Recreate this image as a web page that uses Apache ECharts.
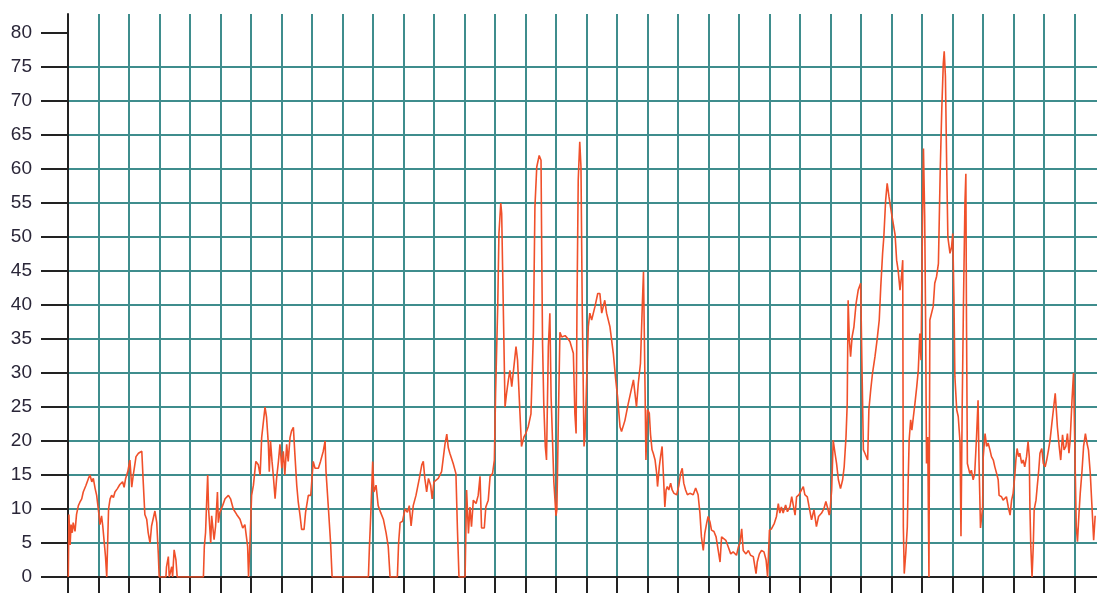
<!DOCTYPE html>
<html>
<head>
<meta charset="utf-8">
<title>Line chart</title>
<script src="https://cdn.jsdelivr.net/npm/echarts@6/dist/echarts.min.js"></script>
<style>
  html, body { margin: 0; padding: 0; background: #fff; }
  #chart { width: 1097px; height: 593px; }
</style>
</head>
<body>
<div id="chart"></div>
<script>
// x is measured in tenths of one grid column, y is the plotted value
const yTicks = [0, 5, 10, 15, 20, 25, 30, 35, 40, 45, 50, 55, 60, 65, 70, 75, 80];
const xTicks = [0, 10, 20, 30, 40, 50, 60, 70, 80, 90, 100, 110, 120, 130, 140, 150, 160,
  170, 180, 190, 200, 210, 220, 230, 240, 250, 260, 270, 280, 290, 300, 310, 320, 330];

const startLow = [
  [0.1,0],[0.3,9.2],[0.7,4.7],[1.0,7.7],[1.4,6.5],[1.7,8],[2.3,6.7],[2.8,9.2],[3.4,10.5],[3.9,11],
  [4.5,11.5],[5.0,12.5],[5.9,13.5],[6.7,14.5],[7.2,15],[7.8,14],[8.3,14.5],[8.9,13],[9.4,12],[10.2,9],
  [10.5,7.7],[11.0,9],[11.4,7.5],[11.8,5.5],[12.3,3],[12.7,0],[12.9,0],[13.3,10],[13.8,11.5],[14.3,12],
  [14.9,11.7],[15.4,12.5],[16.2,13],[17.0,13.6],[17.9,14],[18.4,13.2],[18.9,14.5],[19.6,15.5],[20.3,17.2],[20.9,13.2],
  [21.4,15],[22.3,17.7],[23.1,18.2],[24.2,18.5],[24.7,13.7],[25.2,9.2],[25.8,8.5],[26.3,6.5],[26.9,5],[27.4,7.5],
  [28.5,9.7],[29.1,8],[29.6,3.5],[29.9,0],[32.1,0],[32.3,1.5],[32.9,3],[33.2,0],[34.0,1.5],[34.3,0],
  [34.8,4],[35.4,2.5],[35.8,0],[44.4,0],[44.7,4.5],[45.1,6.5],[45.5,11.5],[45.8,15],[46.1,10],[46.8,5],
  [47.1,9],[47.9,5.5],[48.4,7.5],[49.0,12.5],[49.3,8],[49.8,9.5],[50.7,10.5],[51.5,11.5],[52.6,12],[53.3,11.5],
  [54.2,10],[55.3,9.2],[56.4,8.5],[57.3,7.2],[58.0,7.7],[58.6,7.5],[58.9,4.5],[59.2,0],[59.7,5.5],[60.2,12],
  [60.8,13.5],[61.6,17],[62.4,16.5]
];

const middleLow = [
  [63.0,15],[63.5,20.5],[64.6,25],[65.1,23.5],[65.7,19.5],[66.0,15.5],[66.4,20],[66.9,17],[67.3,15],[67.9,11.5],
  [68.4,14.5],[69.0,17],[69.5,19.5],[70.1,16],[70.6,18.5],[71.1,15],[71.7,19.5],[72.2,17],[72.8,20.5],[73.3,21.5],
  [73.9,22],[74.4,18],[75.0,13.5],[75.5,11],[76.1,9],[76.6,7],[77.4,7],[77.9,9.5],[78.8,12],[79.6,12],
  [80.4,17],[81.0,16],[82.1,16],[82.8,17],[83.7,18.5],[84.3,20],[84.6,15.5],[85.4,10],[86.1,5],[86.6,0],
  [98.5,0],[98.8,4],[99.3,9.5],[99.9,17],[100.3,12.5],[101.0,13.5],[101.7,10.5],[102.5,9.5],[103.4,8.5],[104.3,6.5],
  [105.0,4.5],[105.6,0],[108.0,0],[108.4,5],[108.9,8],[109.7,8.2],[110.5,10],[111.3,9.5],[111.9,10.5],[112.5,7.5],
  [113.2,10.5],[114.1,12],[115.2,14.5],[116.0,16.5],[116.5,17],[117.0,14.5],[117.6,12.5],[118.2,14.5],[118.9,13.5],[119.4,11.5],
  [120.0,14],[121.4,14.5],[122.5,15.5],[123.6,19.5],[124.2,21],[124.7,19]
];

const firstBurst = [
  [125.2,18.2],[126.3,16.7],[127.2,15.2],[127.7,6.9],[128.2,0],[130.2,0],[130.7,12.8],[131.3,6.4],[131.8,10.3],[132.3,7.4],
  [132.9,11.3],[133.8,10.8],[134.5,12],[135.1,14.8],[135.6,7.2],[136.5,7.2],[137.0,10.3],[137.8,11.3],[138.4,14.8],[139.2,15.2],
  [139.8,17.2],[140.2,27],[140.9,39.8],[141.3,50.5],[141.9,55],[142.2,53.5],[142.5,45.6],[143.3,25],[143.8,27],[144.4,29],
  [144.9,30.4],[145.5,28],[146.2,30.9],[146.9,33.9],[147.4,31.9],[148.2,24],[148.7,19.2],[149.5,20.6],[150.1,21.1],[150.9,22.1],
  [151.8,24],[152.6,36],[153.1,54.4],[153.7,60.3],[154.5,62],[155.1,61.3],[155.3,49.6],[155.6,34.4],[156.0,25.5],[156.5,19.2],
  [156.9,17.2],[157.5,33.9],[158.0,38.8],[158.4,26.5],[158.9,19.7],[159.3,14],[160.0,9],[160.3,9.9],[160.8,23.6],[161.3,36],
  [161.9,35.3],[163.0,35.5],[164.0,35],[164.6,34.6],[165.7,32.9],[166.2,24],[166.6,21.1],[166.9,40.2],[167.3,58.4],[167.8,64],
  [168.2,60.3],[168.6,40.2],[169.2,19.2],[169.5,20.6],[170.0,28],[170.6,36.8],[171.1,38.8],[171.7,37.8],[172.8,39.8],[173.7,41.7],
  [174.4,41.7],[175.0,38.8],[176.0,40.7],[176.6,38.8],[177.7,36.8],[178.8,32.9],[179.6,29],[180.2,26.5],[181.0,22.1],[181.5,21.4],
  [182.6,23],[183.7,25.5],[185.4,29],[185.9,27],[186.4,25],[187.0,28.5],[187.7,31.4],[188.3,39.8],[188.7,44.9],[189.2,28],
  [189.5,17.2],[190.0,24.6],[190.6,24.1]
];

const slowDecline = [
  [191.0,21],[191.5,18.7],[191.9,18.2],[192.5,17.2],[193.0,15.3],[193.3,13.3],[193.9,16.3],[194.3,17.7],[194.8,19.2],[195.2,15.3],
  [195.7,10.3],[196.1,12.8],[196.5,13.3],[197.0,12.8],[197.6,13.8],[198.1,12.8],[198.7,12.3],[199.6,12.1],[200.3,13.5],[200.9,15.3],
  [201.4,16],[201.9,13.8],[202.5,12.8],[203.1,12.1],[203.9,12.3],[205.0,12.1],[205.8,13.1],[206.6,12.1],[207.2,9.4],[207.7,5.9],
  [208.3,3.9],[208.8,6.4],[209.4,7.9],[209.9,8.9],[210.5,8.1],[211.0,6.9],[211.8,6.7],[212.5,5.9],[213.2,3.9],[213.8,2.2],
  [214.3,5.9],[214.9,5.7],[215.7,5.4],[216.5,4.4],[217.3,3.4],[218.1,3.7],[219.2,3.2],[219.8,4.4],[220.3,4.9],[220.9,7.1],
  [221.4,3.9],[222.3,3.4],[223.1,3.9],[223.8,3.2],[224.7,3.0],[225.6,0.5],[226.0,2.2],[226.7,3.4],[227.4,3.9],[228.2,3.7],
  [228.9,2.5],[229.4,0],[230.0,6.9],[230.7,7.1],[231.6,7.9],[232.3,8.9],[232.9,10.8],[233.4,9.4],[233.9,10.3],[234.5,9.4],
  [235.3,10.6],[235.9,9.6],[236.7,10.3],[237.3,11.8],[237.8,10.6],[238.4,9.1],[238.9,11.8],[239.7,12.1],[240.5,12.8],[241.1,13.3],
  [241.6,12.1],[242.4,11.8],[243.0,10.3],[243.8,8.4],[244.6,9.9],[245.4,7.4],[246.1,8.9],[247.1,9.4],[247.9,10.1],[248.5,11.1],
  [249.1,10.1],[249.6,9.1]
];

const secondBurst = [
  [249.8,9.4],[250.4,12.8],[250.9,20.1],[251.5,18.2],[252.0,16.7],[252.6,14.3],[253.3,13],[254.0,14.3],[254.5,16.2],[255.1,20.6],
  [255.5,25.5],[255.8,40.7],[256.2,34.9],[256.6,32.4],[257.1,35.3],[257.7,36.8],[258.4,40.2],[259.1,42.2],[259.9,43.2],[260.3,31.9],
  [260.8,18.7],[261.3,18.2],[261.9,18.2],[262.2,17.2],[262.6,24.6],[263.2,27.5],[263.8,30],[264.6,32.4],[265.3,34.9],[266.0,37.8],
  [266.5,42.7],[267.1,47.6],[267.5,50],[268.1,55.4],[268.6,57.9],[269.2,55.9],[269.7,54.4],[270.4,52.5],[271.2,50.3],[271.7,46.6],
  [272.2,45.1],[272.8,42.2],[273.3,44.2],[273.7,46.6],[273.9,7.4],[274.2,0.5],[274.7,3.5],[275.2,7.4],[275.5,14.3],[275.8,20.1],
  [276.3,23.1],[276.7,21.6],[277.2,23.6],[277.7,25.5],[278.3,28],[278.8,30.4],[279.3,35.8],[279.7,31.9],[280.2,53],[280.5,63],
  [280.9,53],[281.2,37.8],[281.5,16.7],[281.9,20.6],[282.3,0],[282.6,37.8],[283.2,37.8],[283.7,39.8],[284.2,43.2],[284.8,44.2],
  [285.4,46.1],[285.7,53],[286.0,59.9],[286.5,68.7],[287.0,75.5],[287.3,77.3],[287.7,73.6],[288.1,60.8],[288.5,50],[289.2,47.6],
  [289.7,48.5],[290.1,50.5],[290.5,40.7],[290.8,29.5],[291.4,24.6],[291.9,23.6],[292.5,19.7],[292.8,6],[293.2,25],[293.6,39.8],
  [294.1,55],[294.4,59.3],[294.6,38.3],[294.9,16.7]
];

const endTail = [
  [295.7,15.2],[296.2,15.7],[296.8,14.3],[297.3,15.2],[297.9,20.6],[298.4,26],[298.7,17.2],[299.2,7.2],[299.9,10.3],[300.1,17.7],
  [300.7,21.1],[301.2,19.2],[301.7,19.7],[302.3,18.7],[302.8,17.7],[303.4,17.2],[303.9,16.2],[304.5,15.2],[305.0,14.3],[305.3,12],
  [306.1,11.8],[306.6,11.3],[307.2,11.1],[307.7,11.8],[308.3,10.3],[308.9,9.1],[309.4,11.3],[309.9,12.3],[310.5,15.2],[310.8,17.2],
  [311.2,18.9],[311.7,17.7],[312.1,18.2],[312.7,16.7],[313.2,17.2],[313.7,16.2],[314.3,17.7],[314.8,19.9],[315.2,17.7],[315.4,10.3],
  [315.7,4.5],[316.1,0],[316.5,4.5],[316.8,9.9],[317.4,11.3],[317.8,13.3],[318.3,15.7],[318.7,18.2],[319.3,18.9],[319.8,16.7],
  [320.4,16.2],[320.9,17.2],[321.5,18.7],[322.0,20.1],[322.6,22.6],[323.1,24.6],[323.7,27],[324.0,25],[324.4,22.1],[325.0,19.2],
  [325.5,17.2],[326.1,20.9],[326.6,18.7],[327.2,19.2],[327.7,21.1],[328.2,18.2],[328.6,20.1],[329.2,26],[329.7,30],[330.1,19.9],
  [330.6,7.4],[331.0,5.2],[331.5,9.4],[331.9,12.3],[332.5,15.7],[333.0,19.2],[333.6,21.1],[334.1,19.7],[334.6,18.7],[335.2,15.2],
  [335.7,10.8],[336.3,5.4],[336.8,9]
];

const lineData = [].concat(startLow, middleLow, firstBurst, slowDecline, secondBurst, endTail);

const gridColor = '#3f8d8d';
const axisColor = '#222';

const chart = echarts.init(document.getElementById('chart'));
chart.setOption({
  animation: false,
  backgroundColor: '#fff',
  grid: { left: 68, right: 0, top: 14, bottom: 16, containLabel: false },
  xAxis: {
    type: 'value',
    min: 0,
    max: 337.4,
    interval: 10,
    axisLine: { show: true, onZero: false, lineStyle: { color: axisColor, width: 2 } },
    axisTick: {
      show: true, inside: false, length: 16, customValues: xTicks,
      lineStyle: { color: axisColor, width: 2 }
    },
    axisLabel: { show: false },
    splitLine: { show: true, lineStyle: { color: gridColor, width: 2 } }
  },
  yAxis: {
    type: 'value',
    min: 0,
    max: 82.8,
    interval: 5,
    axisLine: { show: true, lineStyle: { color: axisColor, width: 2 } },
    axisTick: {
      show: true, inside: false, length: 27, customValues: yTicks,
      lineStyle: { color: axisColor, width: 2 }
    },
    axisLabel: {
      customValues: yTicks,
      margin: 36,
      color: '#2a2638',
      fontFamily: 'Liberation Sans, Arial, sans-serif',
      fontSize: 19
    },
    splitLine: { show: true, showMaxLine: false, lineStyle: { color: gridColor, width: 2 } }
  },
  series: [{
    type: 'line',
    data: lineData,
    showSymbol: false,
    symbol: 'none',
    lineStyle: { color: '#f0502a', width: 1.6 },
    z: 5
  }]
});
</script>
</body>
</html>
